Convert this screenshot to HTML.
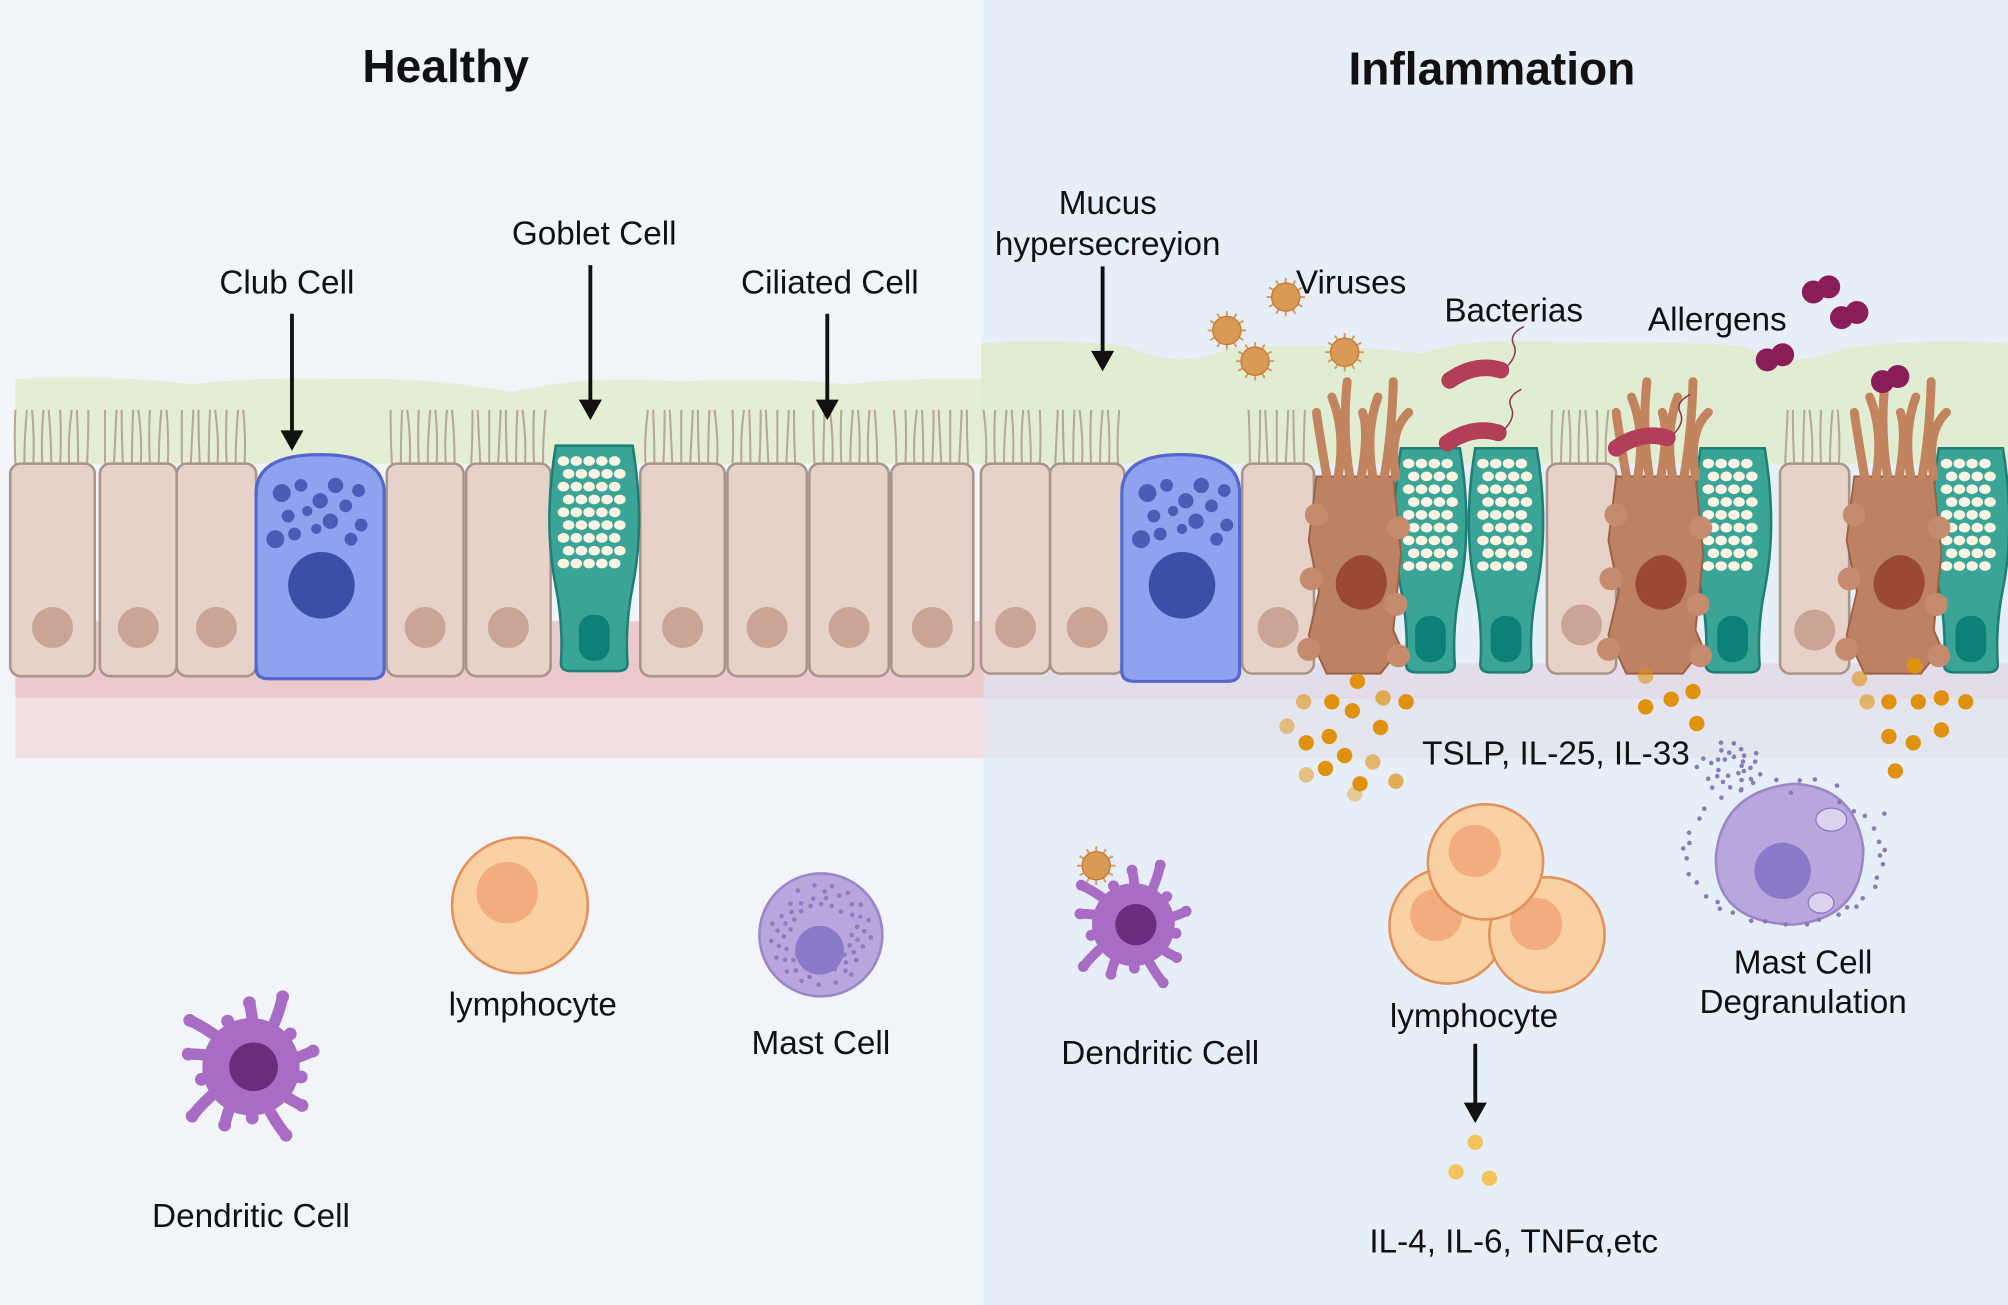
<!DOCTYPE html>
<html><head><meta charset="utf-8"><style>
html,body{margin:0;padding:0;width:2008px;height:1305px;overflow:hidden;background:#f1f5fa}
svg{display:block}
text{font-family:"Liberation Sans",sans-serif;fill:#111}
</style></head><body>
<svg id="s" width="2008" height="1305" viewBox="0 0 1568 1019" xmlns="http://www.w3.org/2000/svg">
<rect x="0" y="0" width="767" height="1019" fill="#f1f5fa"/>
<rect x="767" y="0" width="801" height="1019" fill="#e6eef8"/>
<!-- basement -->
<rect x="12" y="485" width="756" height="60" fill="#ecc9cd"/>
<rect x="12" y="545" width="756" height="47" fill="#f1dfe2"/>
<rect x="768" y="518" width="800" height="28" fill="#e2dde8"/>
<rect x="768" y="546" width="800" height="46" fill="#e4e6ef"/>
<!-- mucus -->
<path d="M12 296 Q80 292 150 300 Q200 294 270 296 Q330 294 400 306 Q460 292 530 298 Q600 294 660 300 Q720 294 768 296 L768 362 L12 362 Z" fill="#e3eed4"/>
<path d="M766 268 Q820 264 880 270 Q920 290 960 272 Q1030 266 1110 276 Q1150 262 1230 268 Q1300 266 1360 270 Q1400 290 1440 272 Q1500 264 1568 268 L1568 362 L766 362 Z" fill="#e1edd2"/>
<g id="g"></g>
<text x="348" y="64" font-size="36" font-weight="bold" text-anchor="middle">Healthy</text>
<text x="1165" y="66" font-size="36" font-weight="bold" text-anchor="middle">Inflammation</text>
<g font-size="26" text-anchor="middle">
<text x="224" y="229">Club Cell</text>
<text x="464" y="191">Goblet Cell</text>
<text x="648" y="229">Ciliated Cell</text>
<text x="865" y="167">Mucus</text>
<text x="865" y="199">hypersecreyion</text>
<text x="1055" y="229">Viruses</text>
<text x="1182" y="251">Bacterias</text>
<text x="1341" y="258">Allergens</text>
<text x="1215" y="597">TSLP, IL-25, IL-33</text>
<text x="416" y="793">lymphocyte</text>
<text x="641" y="823">Mast Cell</text>
<text x="196" y="958">Dendritic Cell</text>
<text x="906" y="831">Dendritic Cell</text>
<text x="1151" y="802">lymphocyte</text>
<text x="1408" y="760">Mast Cell</text>
<text x="1408" y="791">Degranulation</text>
<text x="1182" y="978">IL-4, IL-6, TNFα,etc</text>
</g>
</svg>
<script>
const g=document.getElementById('g');let h='';
function cilia(x1,x2,y){for(let x=x1+4;x<x2-2;x+=7){h+=`<path d="M${x} ${y} q${(x%3)-1} -20 ${(x%5)-2} -42" stroke="#b8a890" stroke-width="1.6" fill="none"/>`;}}
function cell(x,w,y1,y2,ny){h+=`<rect x="${x}" y="${y1}" width="${w}" height="${y2-y1}" rx="8" fill="#e6d2c8" stroke="#a9948a" stroke-width="2"/><circle cx="${x+w/2}" cy="${ny}" r="16" fill="#caa595"/>`;}
function club(x,w,y1,y2){h+=`<path d="M${x} ${y2-8} L${x} ${y1+30} Q${x} ${y1} ${x+w/2} ${y1} Q${x+w} ${y1} ${x+w} ${y1+30} L${x+w} ${y2-8} Q${x+w} ${y2} ${x+w-10} ${y2} L${x+10} ${y2} Q${x} ${y2} ${x} ${y2-8}Z" fill="#8ea2ef" stroke="#5567cc" stroke-width="2.5"/><circle cx="${x+w/2+1}" cy="${y1+102}" r="26" fill="#3b4fa8"/>`;
 [[20,30,7],[35,24,5],[50,36,6],[62,24,6],[70,40,5],[25,48,5],[40,44,4],[58,52,6],[80,28,5],[82,55,5],[15,66,7],[30,62,5],[47,58,4],[74,66,5]].forEach(d=>h+=`<circle cx="${x+d[0]}" cy="${y1+d[1]}" r="${d[2]}" fill="#4a5cb6"/>`);}
function goblet(x,w,y1,y2){const c=x+w/2;h+=`<path d="M${x+6} ${y1} L${x+w-6} ${y1} Q${x+w+4} ${y1+60} ${x+w-6} ${y1+110} Q${x+w-12} ${y1+140} ${x+w-10} ${y2-6} Q${x+w-10} ${y2} ${x+w-18} ${y2} L${x+18} ${y2} Q${x+10} ${y2} ${x+10} ${y2-6} Q${x+12} ${y1+140} ${x+6} ${y1+110} Q${x-4} ${y1+60} ${x+6} ${y1}Z" fill="#3aa597" stroke="#1f7f75" stroke-width="2"/><rect x="${c-12}" y="${y2-44}" width="24" height="36" rx="11" fill="#0d8078"/>`;
 for(let yy=y1+12;yy<y1+95;yy+=10)for(let xx=x+12;xx<x+w-10;xx+=10)h+=`<ellipse cx="${xx+((yy/10|0)%2)*4}" cy="${yy}" rx="4.5" ry="3.8" fill="#fbf4e2"/>`;}
function brown(x,w,y1,y2){h+=`<path d="M${x} ${y1} L${x+w} ${y1} L${x+w+6} ${y1+60} L${x+w} ${y1+120} L${x+w+6} ${y2-20} L${x+w-10} ${y2} L${x+8} ${y2} L${x-6} ${y2-30} L${x+2} ${y1+90} L${x-6} ${y1+50}Z" fill="#bd8163" stroke="#9c6045" stroke-width="1.5"/><path d="M${x+20} ${y1+70} q15 -16 30 -2 q10 14 0 30 q-14 12 -30 0 q-10 -14 0 -28Z" fill="#9a4935"/>`;
 [[0,30],[-4,80],[w+4,40],[w+2,100],[-6,135],[w+4,140]].forEach(d=>h+=`<circle cx="${x+d[0]}" cy="${y1+d[1]}" r="9" fill="#c48b6f"/>`);
 for(let i=0;i<7;i++){const xx=x+8+i*9;h+=`<path d="M${xx} ${y1} q${i%2?6:-6} -35 ${i*3-8} -${50+(i%3)*12}" stroke="#c2835f" stroke-width="7" stroke-linecap="round" fill="none"/>`;}}
function dots(pts,c){pts.forEach(p=>h+=`<circle cx="${p[0]}" cy="${p[1]}" r="6" fill="${c||'#e0920f'}" opacity="${p[2]||1}"/>`);}
function virus(x,y){for(let a=0;a<12;a++){const r=a*Math.PI/6;h+=`<line x1="${x}" y1="${y}" x2="${x+15*Math.cos(r)}" y2="${y+15*Math.sin(r)}" stroke="#d99a55" stroke-width="1.5"/>`;}h+=`<circle cx="${x}" cy="${y}" r="11" fill="#d99a55" stroke="#c47a35"/>`;}
function allergen(x,y){h+=`<circle cx="${x}" cy="${y}" r="9" fill="#8b1c5a"/><circle cx="${x+12}" cy="${y-4}" r="9" fill="#8b1c5a"/>`;}
function bact(x,y){h+=`<path d="M${x} ${y} q20 -14 40 -8" stroke="#b33e5a" stroke-width="13" stroke-linecap="round" fill="none"/><path d="M${x+44} ${y-10} q10 -10 6 -18 q-4 -8 8 -14" stroke="#8a3a50" stroke-width="1.2" fill="none"/>`;}
function dend(x,y,s){const arms=14;for(let i=0;i<arms;i++){const a=i*2*Math.PI/arms+0.2;const l=(40+(i%3)*10)*s;const mx=x+l*0.6*Math.cos(a+0.15),my=y+l*0.6*Math.sin(a+0.15);h+=`<path d="M${x} ${y} Q${mx} ${my} ${x+l*Math.cos(a)} ${y+l*Math.sin(a)}" stroke="#a86cc4" stroke-width="${9*s}" stroke-linecap="round" fill="none"/><circle cx="${x+l*Math.cos(a)}" cy="${y+l*Math.sin(a)}" r="${5*s}" fill="#a86cc4"/>`;}h+=`<circle cx="${x}" cy="${y}" r="${38*s}" fill="#a86cc4"/><circle cx="${x+2}" cy="${y}" r="${19*s}" fill="#6a2c7c"/>`;}
function lymph(x,y,r){h+=`<circle cx="${x}" cy="${y}" r="${r}" fill="#f9d1a3" stroke="#e2915a" stroke-width="2"/><circle cx="${x-10*r/53}" cy="${y-10*r/53}" r="${24*r/53}" fill="#f3ac80"/>`;}
function arrow(x,y1,y2){h+=`<line x1="${x}" y1="${y1}" x2="${x}" y2="${y2-14}" stroke="#111" stroke-width="3"/><path d="M${x-9} ${y2-16} L${x+9} ${y2-16} L${x} ${y2}Z" fill="#111"/>`;}
// healthy cilia & cells
[[8,66],[78,60],[138,62],[302,60],[364,66],[500,66],[568,62],[632,62],[696,64]].forEach(c=>{cilia(c[0],c[0]+c[1],362);cell(c[0],c[1],362,528,490);});
club(200,100,355,530);goblet(428,72,348,524);
// inflamed side
cilia(766,820,362);cilia(820,878,362);cilia(972,1024,362);cilia(1208,1260,362);cilia(1390,1444,362);
cell(766,54,362,526,490);cell(820,58,362,526,490);cell(970,56,362,526,490);cell(1208,54,362,526,488);cell(1390,54,362,526,492);
club(876,92,355,532);
goblet(1088,58,350,525);goblet(1146,60,350,525);goblet(1322,62,350,525);goblet(1508,62,350,525);
brown(1028,60,372,526);brown(1262,62,372,526);brown(1448,62,372,526);
dots([[1018,548,.6],[1040,548],[1060,532],[1080,545,.7],[1098,548],[1005,567,.5],[1020,580],[1038,575],[1056,555],[1078,568],[1035,600],[1062,612],[1090,610,.7],[1020,605,.5],[1050,590],[1072,595,.6],[1058,620,.4],[1285,552],[1305,546],[1322,540],[1325,565],[1285,528,.6]]);
dots([[1458,548,.6],[1475,548],[1498,548],[1516,545],[1535,548],[1475,575],[1494,580],[1516,570],[1480,602],[1452,530,.6],[1495,520]]);
dots([[1152,892],[1137,915],[1163,920]],'#f3c45a');
for(let i=0;i<30;i++){const a=i*2.4,r=8+((i*7)%20);h+=`<circle cx="${1352+r*Math.cos(a)}" cy="${598+r*Math.sin(a)*0.8}" r="1.8" fill="#8a7bb8"/>`;}
virus(958,258);virus(980,282);virus(1004,232);virus(1050,275);virus(856,676);
allergen(1416,228);allergen(1438,248);allergen(1380,281);allergen(1470,298);
bact(1132,297);bact(1130,346);bact(1262,350);
arrow(228,245,352);arrow(461,207,328);arrow(646,245,328);arrow(861,208,290);arrow(1152,815,877);
// bottom cells
dend(196,833,1);lymph(406,707,53);
h+=`<circle cx="641" cy="730" r="48" fill="#b8a6dc" stroke="#9a86c8" stroke-width="2"/><circle cx="640" cy="742" r="19" fill="#8a78c8"/>`;
for(let i=0;i<60;i++){const a=i*2.4,r=24+(i*5)%20;h+=`<circle cx="${641+r*Math.cos(a)}" cy="${730+r*Math.sin(a)}" r="1.8" fill="#8d7bc3"/>`;}
dend(885,722,0.85);
lymph(1130,723,45);lymph(1208,730,45);lymph(1160,673,45);
h+=`<path d="M1340 668 q5 -50 60 -56 q48 2 55 50 q0 55 -55 60 q-62 -2 -60 -54Z" fill="#b8a6dc" stroke="#9a86c8" stroke-width="2"/><circle cx="1392" cy="680" r="22" fill="#8a78c8"/><ellipse cx="1430" cy="640" rx="12" ry="9" fill="#ddd3ee" stroke="#8a78c8"/><ellipse cx="1422" cy="705" rx="10" ry="8" fill="#ddd3ee" stroke="#8a78c8"/>`;
for(let i=0;i<40;i++){const a=i*2.4,r=70+(i*7)%18;h+=`<circle cx="${1398+r*Math.cos(a)}" cy="${668+r*Math.sin(a)*0.7}" r="1.8" fill="#8a7bb8"/>`;}
g.innerHTML=h;
</script>
</body></html>
